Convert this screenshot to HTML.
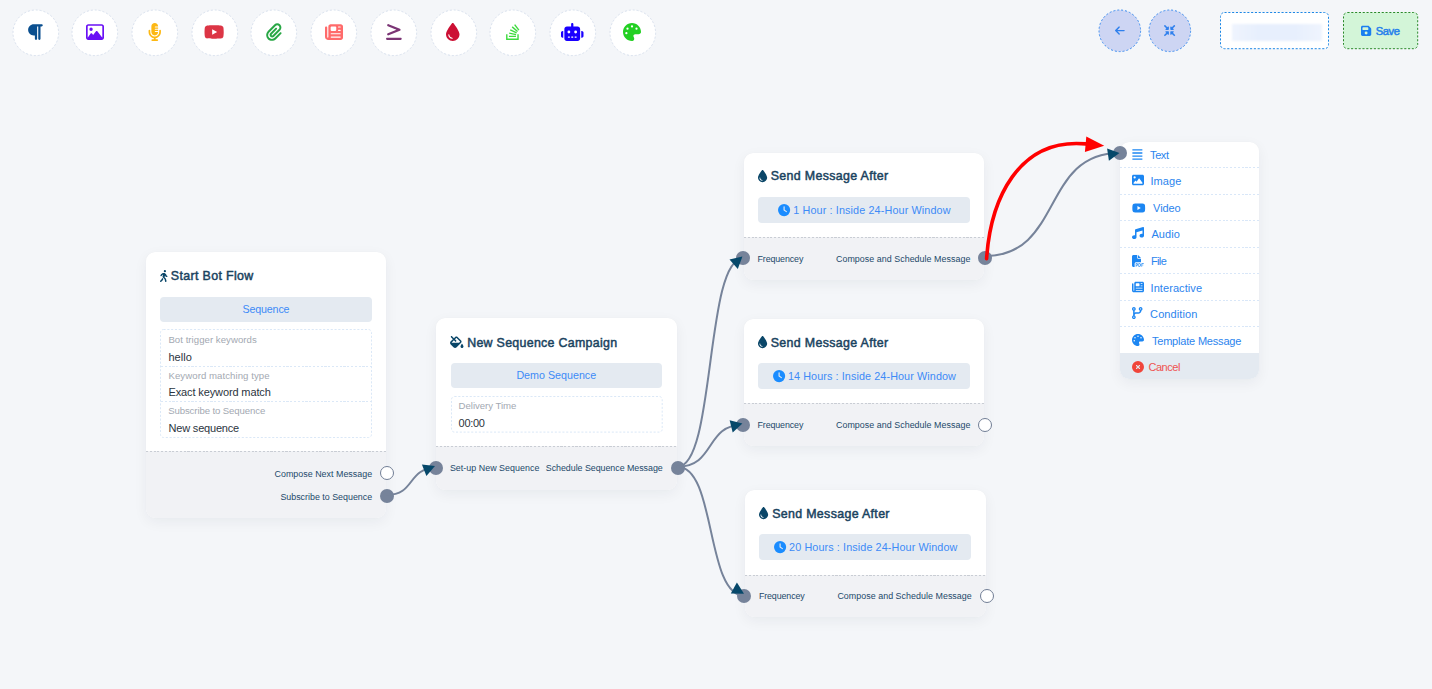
<!DOCTYPE html>
<html><head><meta charset="utf-8"><title>Flow Builder</title>
<style>
html,body{margin:0;padding:0}
body{width:1432px;height:689px;overflow:hidden;background:#f4f6f9;font-family:"Liberation Sans", sans-serif;position:relative}
.t{position:absolute;white-space:pre;line-height:0}
.abs{position:absolute;box-sizing:border-box}
svg{overflow:visible}

.tb{position:absolute;box-sizing:border-box;width:47px;height:47px;border-radius:50%;background:#fff;border:1px dashed #cfd9e8}
.rb{position:absolute;box-sizing:border-box;width:43px;height:43px;border-radius:50%;background:#ccd4f3;border:1px dashed #3b8ff0}
.card{position:absolute;box-sizing:border-box;background:#fff;border-radius:9px;box-shadow:0 4px 14px rgba(20,30,50,.055),0 0 1px rgba(20,30,50,.05);overflow:hidden}
.foot{position:absolute;left:0;right:0;bottom:0;background:#f1f2f5 repeating-linear-gradient(90deg,#c9cdd4 0 2.1px,transparent 2.1px 3.77px) top left/100% 1px no-repeat;box-sizing:border-box}
.btn{position:absolute;box-sizing:border-box;background:#e4eaf1;border-radius:4px}
.info{position:absolute;box-sizing:border-box;border:1px dashed #dbe7f5;border-radius:3px}
.hr{position:absolute;height:0;border-top:1px dashed #dbe7f5}
.sock{position:absolute;box-sizing:border-box;width:14px;height:14px;border-radius:50%;background:#76839a}
.sock.o{background:#fff;border:1.6px solid #717e95}
.mrow{position:absolute;left:0;right:0;height:0;border-top:1px dashed #dbe7f5;box-sizing:border-box}

</style></head><body>
<svg class="abs" style="left:11.60px;top:8.80px" width="47.60" height="47.60"><circle cx="23.80" cy="23.80" r="22.80" fill="#fff" stroke="#d9e1ee" stroke-width="1" stroke-dasharray="2 1.95"/></svg>
<svg class="abs" style="left:27.32px;top:23.00px" width="15.75" height="18" viewBox="0 0 448 512"><path fill="#0a4f8f" fill-rule="evenodd" d="M192 32h64H416c17.700 0 32 14.300 32 32s-14.300 32-32 32H384l0 352c0 17.700-14.300 32-32 32s-32-14.300-32-32l0-352H288V448c0 17.700-14.300 32-32 32s-32-14.300-32-32V352H192c-88.400 0-160-71.600-160-160s71.600-160 160-160z"/></svg>
<svg class="abs" style="left:71.30px;top:8.80px" width="47.60" height="47.60"><circle cx="23.80" cy="23.80" r="22.80" fill="#fff" stroke="#d9e1ee" stroke-width="1" stroke-dasharray="2 1.95"/></svg>
<svg class="abs" style="left:85.90px;top:23.00px" width="18.00" height="18" viewBox="0 0 512 512"><path fill="#6a11f5" fill-rule="evenodd" d="M448 80c8.800 0 16 7.200 16 16V415.800l-5-6.500-136-176c-4.500-5.900-11.600-9.300-19-9.300s-14.400 3.400-19 9.300L202 340.700l-30.500-42.700C167 291.700 159.800 288 152 288s-15 3.700-19.500 10.100l-80 112L48 416.300l0-.3V96c0-8.800 7.200-16 16-16H448zM64 32C28.700 32 0 60.700 0 96V416c0 35.300 28.700 64 64 64H448c35.300 0 64-28.700 64-64V96c0-35.300-28.700-64-64-64H64zm80 192a48 48 0 1 0 0-96 48 48 0 1 0 0 96z"/></svg>
<svg class="abs" style="left:131.00px;top:8.80px" width="47.60" height="47.60"><circle cx="23.80" cy="23.80" r="22.80" fill="#fff" stroke="#d9e1ee" stroke-width="1" stroke-dasharray="2 1.95"/></svg>
<svg class="abs" style="left:147.85px;top:23.00px" width="13.50" height="18" viewBox="0 0 384 512"><path fill="#fdb813" fill-rule="evenodd" d="M96 96V256c0 53 43 96 96 96s96-43 96-96H208c-8.800 0-16-7.200-16-16s7.200-16 16-16h80V192H208c-8.800 0-16-7.200-16-16s7.200-16 16-16h80V128H208c-8.800 0-16-7.200-16-16s7.200-16 16-16h80c0-53-43-96-96-96S96 43 96 96zM320 240v16c0 70.700-57.300 128-128 128s-128-57.300-128-128V216c0-13.300-10.700-24-24-24s-24 10.700-24 24v40c0 89.100 66.200 162.700 152 174.400V464H120c-13.300 0-24 10.700-24 24s10.700 24 24 24h72 72c13.300 0 24-10.700 24-24s-10.700-24-24-24H216V430.400c85.800-11.700 152-85.300 152-174.400V216c0-13.300-10.700-24-24-24s-24 10.700-24 24v24z"/></svg>
<svg class="abs" style="left:190.70px;top:8.80px" width="47.60" height="47.60"><circle cx="23.80" cy="23.80" r="22.80" fill="#fff" stroke="#d9e1ee" stroke-width="1" stroke-dasharray="2 1.95"/></svg>
<svg class="abs" style="left:204.18px;top:23.00px" width="20.25" height="18" viewBox="0 0 576 512"><path fill="#dc3545" fill-rule="evenodd" d="M549.655 124.083c-6.281-23.650-24.787-42.276-48.284-48.597C458.781 64 288 64 288 64S117.220 64 74.629 75.486c-23.497 6.322-42.003 24.947-48.284 48.597-11.412 42.867-11.412 132.305-11.412 132.305s0 89.438 11.412 132.305c6.281 23.650 24.787 41.500 48.284 47.821C117.220 448 288 448 288 448s170.780 0 213.371-11.486c23.497-6.321 42.003-24.171 48.284-47.821 11.412-42.867 11.412-132.305 11.412-132.305s0-89.438-11.412-132.305zm-317.510 213.508V175.185l142.739 81.205-142.739 81.201z"/></svg>
<svg class="abs" style="left:250.40px;top:8.80px" width="47.60" height="47.60"><circle cx="23.80" cy="23.80" r="22.80" fill="#fff" stroke="#d9e1ee" stroke-width="1" stroke-dasharray="2 1.95"/></svg>
<svg class="abs" style="left:266.12px;top:23.00px" width="15.75" height="18" viewBox="0 0 448 512"><path fill="#28a745" fill-rule="evenodd" d="M364.200 83.800c-24.400-24.400-64-24.400-88.400 0l-184 184c-42.100 42.100-42.100 110.300 0 152.400s110.300 42.100 152.400 0l152-152c10.900-10.900 28.700-10.900 39.600 0s10.900 28.700 0 39.600l-152 152c-64 64-167.600 64-231.600 0s-64-167.600 0-231.600l184-184c46.300-46.300 121.300-46.300 167.600 0s46.300 121.300 0 167.600l-176 176c-28.600 28.600-75 28.600-103.600 0s-28.600-75 0-103.600l144-144c10.900-10.900 28.700-10.900 39.600 0s10.900 28.700 0 39.600l-144 144c-6.700 6.700-6.700 17.700 0 24.400s17.700 6.700 24.400 0l176-176c24.400-24.400 24.400-64 0-88.400z"/></svg>
<svg class="abs" style="left:310.10px;top:8.80px" width="47.60" height="47.60"><circle cx="23.80" cy="23.80" r="22.80" fill="#fff" stroke="#d9e1ee" stroke-width="1" stroke-dasharray="2 1.95"/></svg>
<svg class="abs" style="left:324.70px;top:23.00px" width="18.00" height="18" viewBox="0 0 512 512"><path fill="#ff6b6b" fill-rule="evenodd" d="M96 96c0-35.300 28.700-64 64-64H448c35.300 0 64 28.700 64 64V416c0 35.300-28.700 64-64 64H80c-44.200 0-80-35.800-80-80V128c0-17.700 14.300-32 32-32s32 14.300 32 32V400c0 8.800 7.200 16 16 16s16-7.200 16-16V96zm64 24v80c0 13.300 10.700 24 24 24H296c13.300 0 24-10.700 24-24V120c0-13.300-10.700-24-24-24H184c-13.300 0-24 10.700-24 24zm208-8c0 8.800 7.200 16 16 16h48c8.800 0 16-7.200 16-16s-7.200-16-16-16H384c-8.800 0-16 7.200-16 16zm0 96c0 8.800 7.200 16 16 16h48c8.800 0 16-7.200 16-16s-7.200-16-16-16H384c-8.800 0-16 7.200-16 16zM160 304c0 8.800 7.200 16 16 16H432c8.800 0 16-7.200 16-16s-7.200-16-16-16H176c-8.800 0-16 7.200-16 16zm0 96c0 8.800 7.200 16 16 16H432c8.800 0 16-7.200 16-16s-7.200-16-16-16H176c-8.800 0-16 7.200-16 16z"/></svg>
<svg class="abs" style="left:369.80px;top:8.80px" width="47.60" height="47.60"><circle cx="23.80" cy="23.80" r="22.80" fill="#fff" stroke="#d9e1ee" stroke-width="1" stroke-dasharray="2 1.95"/></svg>
<svg class="abs" style="left:385.53px;top:23.00px" width="15.75" height="18" viewBox="0 0 448 512"><path fill="#7b3575" fill-rule="evenodd" d="M52.100 93.700C35.700 87.100 27.700 68.500 34.300 52.100s25.200-24.400 41.600-17.800l320 128C408 167.100 416 178.900 416 192s-8 24.900-20.100 29.700l-320 128c-16.400 6.600-35-1.400-41.600-17.800s1.400-35 17.800-41.600L297.800 192 52.100 93.700zM416 416c17.700 0 32 14.300 32 32s-14.300 32-32 32H32c-17.700 0-32-14.300-32-32s14.300-32 32-32H416z"/></svg>
<svg class="abs" style="left:429.50px;top:8.80px" width="47.60" height="47.60"><circle cx="23.80" cy="23.80" r="22.80" fill="#fff" stroke="#d9e1ee" stroke-width="1" stroke-dasharray="2 1.95"/></svg>
<svg class="abs" style="left:446.35px;top:23.00px" width="13.50" height="18" viewBox="0 0 384 512"><path fill="#cc1034" fill-rule="evenodd" d="M192 512C86 512 0 426 0 320C0 228.800 130.200 57.700 166.600 11.700C172.600 4.200 181.500 0 191.100 0h1.800c9.600 0 18.500 4.200 24.500 11.700C253.800 57.700 384 228.800 384 320c0 106-86 192-192 192zM96 336c0-8.800-7.200-16-16-16s-16 7.200-16 16c0 61.900 50.100 112 112 112c8.800 0 16-7.200 16-16s-7.200-16-16-16c-44.200 0-80-35.800-80-80z"/></svg>
<svg class="abs" style="left:489.20px;top:8.80px" width="47.60" height="47.60"><circle cx="23.80" cy="23.80" r="22.80" fill="#fff" stroke="#d9e1ee" stroke-width="1" stroke-dasharray="2 1.95"/></svg>
<svg class="abs" style="left:506.05px;top:23.00px" width="13.50" height="18" viewBox="0 0 384 512"><path fill="#3edb3e" fill-rule="evenodd" d="M290.700 311L95 269.700 86.800 309l195.700 41zm51-87L188.200 95.700l-25.500 30.800 153.500 128.300zm-31.200 39.700L129.200 179l-16.700 36.500L293.700 300zM262 32l-32 24 119.300 160.300 32-24zm20.500 328h-200v39.700h200zm39.700 80H42.700V320h-40v160h359.500V320h-40z"/></svg>
<svg class="abs" style="left:548.90px;top:8.80px" width="47.60" height="47.60"><circle cx="23.80" cy="23.80" r="22.80" fill="#fff" stroke="#d9e1ee" stroke-width="1" stroke-dasharray="2 1.95"/></svg>
<svg class="abs" style="left:561.25px;top:23.00px" width="22.50" height="18" viewBox="0 0 640 512"><path fill="#1a00ff" fill-rule="evenodd" d="M320 0c17.700 0 32 14.300 32 32V96H472c39.800 0 72 32.200 72 72V440c0 39.800-32.200 72-72 72H168c-39.800 0-72-32.200-72-72V168c0-39.800 32.200-72 72-72H288V32c0-17.700 14.300-32 32-32zM208 384c-8.800 0-16 7.200-16 16s7.200 16 16 16h32c8.800 0 16-7.200 16-16s-7.200-16-16-16H208zm96 0c-8.800 0-16 7.200-16 16s7.200 16 16 16h32c8.800 0 16-7.200 16-16s-7.200-16-16-16H304zm96 0c-8.800 0-16 7.200-16 16s7.200 16 16 16h32c8.800 0 16-7.200 16-16s-7.200-16-16-16H400zM264 256a40 40 0 1 0 -80 0 40 40 0 1 0 80 0zm152 40a40 40 0 1 0 0-80 40 40 0 1 0 0 80zM48 224H64V416H48c-26.500 0-48-21.500-48-48V272c0-26.500 21.500-48 48-48zm544 0c26.500 0 48 21.500 48 48v96c0 26.500-21.500 48-48 48H576V224h16z"/></svg>
<svg class="abs" style="left:608.60px;top:8.80px" width="47.60" height="47.60"><circle cx="23.80" cy="23.80" r="22.80" fill="#fff" stroke="#d9e1ee" stroke-width="1" stroke-dasharray="2 1.95"/></svg>
<svg class="abs" style="left:623.20px;top:23.00px" width="18.00" height="18" viewBox="0 0 512 512"><path fill="#22d022" fill-rule="evenodd" d="M512 256c0 .9 0 1.800 0 2.700c-.4 36.500-33.600 61.300-70.100 61.300H344c-26.500 0-48 21.500-48 48c0 3.400 .4 6.700 1 9.900c2.100 10.200 6.500 20 10.800 29.900c6.100 13.800 12.100 27.500 12.100 42c0 31.800-21.600 60.700-53.400 62c-3.500 .1-7 .2-10.600 .2C114.600 512 0 397.400 0 256S114.600 0 256 0S512 114.600 512 256zM128 288a32 32 0 1 0 -64 0 32 32 0 1 0 64 0zm0-96a32 32 0 1 0 0-64 32 32 0 1 0 0 64zM288 96a32 32 0 1 0 -64 0 32 32 0 1 0 64 0zm96 96a32 32 0 1 0 0-64 32 32 0 1 0 0 64z"/></svg>
<svg class="abs" style="left:1097.70px;top:8.80px" width="43.60" height="43.60"><circle cx="21.80" cy="21.80" r="20.80" fill="#cdd5f3" stroke="#3d8df0" stroke-width="1" stroke-dasharray="2 1.95"/></svg>
<svg class="abs" style="left:1147.50px;top:8.80px" width="43.60" height="43.60"><circle cx="21.80" cy="21.80" r="20.80" fill="#cdd5f3" stroke="#3d8df0" stroke-width="1" stroke-dasharray="2 1.95"/></svg>
<svg class="abs" style="left:1114.80px;top:25.40px" width="9.80" height="11.2" viewBox="0 0 448 512"><path fill="#2f80ed" fill-rule="evenodd" d="M9.400 233.400c-12.500 12.500-12.500 32.800 0 45.300l160 160c12.500 12.500 32.800 12.500 45.300 0s12.500-32.800 0-45.300L109.200 288 416 288c17.700 0 32-14.300 32-32s-14.300-32-32-32l-306.700 0L214.600 118.600c12.500-12.500 12.500-32.800 0-45.300s-32.800-12.500-45.300 0l-160 160z"/></svg>
<svg class="abs" style="left:1163.65px;top:25.05px" width="11.20" height="11.2" viewBox="0 0 512 512"><path fill="#2f80ed" fill-rule="evenodd" d="M200 288H88c-21.400 0-32.100 25.800-17 41l32.900 31-99.200 99.300c-6.200 6.200-6.200 16.400 0 22.600l25.400 25.400c6.200 6.200 16.400 6.200 22.600 0L152 408l31.100 33c15.100 15.100 40.900 4.400 40.900-17V312c0-13.300-10.700-24-24-24zm112-64h112c21.400 0 32.100-25.900 17-41l-33-31 99.300-99.300c6.200-6.200 6.200-16.400 0-22.600L481.900 4.700c-6.200-6.200-16.400-6.200-22.600 0L360 104l-31.100-33C313.800 55.900 288 66.600 288 88v112c0 13.300 10.700 24 24 24zm96 136l33-31.100c15.100-15.100 4.400-40.900-17-40.900H312c-13.300 0-24 10.700-24 24v112c0 21.400 25.900 32.100 41 17l31-32.900 99.300 99.300c6.200 6.200 16.400 6.200 22.600 0l25.400-25.400c6.200-6.200 6.200-16.400 0-22.600L408 360zM183 71.100L152 104 52.700 4.700c-6.200-6.200-16.400-6.200-22.600 0L4.700 30.100c-6.200 6.200-6.200 16.400 0 22.600L104 152l-33 31.100C55.900 198.200 66.600 224 88 224h112c13.300 0 24-10.700 24-24V88c0-21.300-25.900-32-41-16.900z"/></svg>
<svg class="abs" style="left:1218.90px;top:10.90px" width="111.00" height="39.20"><rect x="1.5" y="1.5" width="108.00" height="36.20" rx="4" fill="#fff" stroke="#1e88e5" stroke-width="1" stroke-dasharray="2.1 1.7"/></svg>
<div class="abs" style="left:1231.5px;top:24.2px;width:90.5px;height:16.6px;background:linear-gradient(90deg,#eff4fe,#e7effd 30%,#e7effd 70%,#eff4fe);filter:blur(1.2px)"></div>
<svg class="abs" style="left:1341.90px;top:10.90px" width="77.20" height="39.20"><rect x="1.5" y="1.5" width="74.20" height="36.20" rx="4" fill="#d3f5d8" stroke="#2a8a2a" stroke-width="1" stroke-dasharray="2.1 1.7"/></svg>
<svg class="abs" style="left:1360.98px;top:24.95px" width="10.24" height="11.7" viewBox="0 0 448 512"><path fill="#1a7ff0" fill-rule="evenodd" d="M64 32C28.700 32 0 60.700 0 96V416c0 35.300 28.700 64 64 64H384c35.300 0 64-28.700 64-64V173.300c0-17-6.700-33.300-18.700-45.300L352 50.700C340 38.700 323.700 32 306.700 32H64zm0 96c0-17.700 14.300-32 32-32H288c17.700 0 32 14.300 32 32v64c0 17.700-14.300 32-32 32H96c-17.700 0-32-14.300-32-32V128zM224 288a64 64 0 1 1 0 128 64 64 0 1 1 0-128z"/></svg>
<div class="card" style="left:145.5px;top:251.8px;width:240.8px;height:266.2px"><div class="foot" style="top:199.7px"></div></div>
<svg class="abs" style="left:159.75px;top:269.80px" width="7.50" height="12" viewBox="0 0 320 512"><path fill="#0a4668" fill-rule="evenodd" d="M160 48a48 48 0 1 1 96 0 48 48 0 1 1 -96 0zM126.500 199.300c-1 .4-1.900 .8-2.900 1.200l-8 3.500c-16.400 7.300-29 21.200-34.700 38.200l-2.600 7.800c-5.600 16.800-23.700 25.800-40.500 20.200s-25.800-23.700-20.200-40.500l2.600-7.800c11.400-34.100 36.600-61.900 69.400-76.500l8-3.500c20.800-9.200 43.300-14 66.100-14c44.600 0 84.800 26.800 101.900 67.900L281 232.700l21.400 10.700c15.800 7.900 22.200 27.100 14.300 42.900s-27.100 22.200-42.900 14.300L247 287.300c-10.300-5.200-18.400-13.800-22.800-24.500l-9.600-23-19.300 65.500 49.500 54c5.400 5.900 9.200 13 11.200 20.800l23 92.100c4.300 17.100-6.100 34.500-23.300 38.800s-34.500-6.100-38.800-23.300l-22-88.100-70.700-77.100c-14.800-16.100-20.300-38.600-14.700-59.700l16.900-63.500zM68.700 398l25-62.400c2.100 3 4.500 5.800 7 8.600l40.700 44.400-14.500 36.200c-2.400 6-6 11.500-10.600 16.100L54.600 502.600c-12.500 12.500-32.800 12.500-45.300 0s-12.500-32.800 0-45.300L68.700 398z"/></svg>
<div class="btn" style="left:160px;top:297px;width:212px;height:25.3px"></div>
<svg class="abs" style="left:159.00px;top:328.20px" width="214.00" height="111.00"><rect x="1.5" y="1.5" width="211.00" height="108.00" rx="3" fill="none" stroke="#dbe8f7" stroke-width="1" stroke-dasharray="2.1 1.7"/></svg>
<div class="abs" style="left:160.50px;top:366.00px;width:211.00px;height:1px;background:repeating-linear-gradient(90deg,#dbe8f7 0 2.1px,transparent 2.1px 3.8px)"></div>
<div class="abs" style="left:160.50px;top:401.00px;width:211.00px;height:1px;background:repeating-linear-gradient(90deg,#dbe8f7 0 2.1px,transparent 2.1px 3.8px)"></div>
<div class="card" style="left:436.0px;top:318.3px;width:240.8px;height:172.0px"><div class="foot" style="top:127.9px"></div></div>
<svg class="abs" style="left:450.40px;top:336.10px" width="13.50" height="12" viewBox="0 0 576 512"><path fill="#0a4668" fill-rule="evenodd" d="M41.400 9.400C53.900-3.100 74.100-3.100 86.600 9.400L168 90.700l53.100-53.100c28.100-28.100 73.700-28.100 101.800 0L474.300 189.100c28.100 28.100 28.100 73.700 0 101.800L283.900 481.400c-37.500 37.500-98.300 37.500-135.800 0L30.600 363.900c-37.500-37.500-37.500-98.300 0-135.800L122.700 136 41.400 54.600c-12.500-12.500-12.500-32.800 0-45.300zm176 221.300L168 181.300 75.900 273.400c-4.200 4.200-7 9.300-8.400 14.600H386.700l42.300-42.300c3.100-3.100 3.100-8.200 0-11.300L277.700 82.900c-3.100-3.100-8.200-3.100-11.300 0L213.300 136l49.400 49.400c12.500 12.500 12.500 32.800 0 45.300s-32.800 12.500-45.300 0zM512 512c-35.300 0-64-28.700-64-64c0-25.200 32.600-79.600 51.200-108.700c6-9.400 19.500-9.400 25.500 0C543.400 368.400 576 422.800 576 448c0 35.300-28.700 64-64 64z"/></svg>
<div class="btn" style="left:450.5px;top:363px;width:211.7px;height:25.4px"></div>
<svg class="abs" style="left:449.50px;top:395.20px" width="213.70" height="38.60"><rect x="1.5" y="1.5" width="210.70" height="35.60" rx="3" fill="none" stroke="#dbe8f7" stroke-width="1" stroke-dasharray="2.1 1.7"/></svg>
<div class="card" style="left:743.6px;top:152.7px;width:240.8px;height:127.2px"><div class="foot" style="top:84.4px"></div></div>
<svg class="abs" style="left:757.72px;top:169.90px" width="9.15" height="12.2" viewBox="0 0 384 512"><path fill="#0a4668" fill-rule="evenodd" d="M192 512C86 512 0 426 0 320C0 228.800 130.200 57.700 166.600 11.700C172.600 4.200 181.500 0 191.100 0h1.800c9.600 0 18.500 4.200 24.500 11.700C253.800 57.700 384 228.800 384 320c0 106-86 192-192 192zM96 336c0-8.800-7.200-16-16-16s-16 7.200-16 16c0 61.900 50.100 112 112 112c8.800 0 16-7.200 16-16s-7.200-16-16-16c-44.200 0-80-35.800-80-80z"/></svg>
<div class="btn" style="left:757.7px;top:196.9px;width:212.3px;height:25.7px"></div>
<svg class="abs" style="left:777.60px;top:203.60px" width="12.20" height="12.2" viewBox="0 0 512 512"><path fill="#1a8cff" fill-rule="evenodd" d="M256 0a256 256 0 1 1 0 512A256 256 0 1 1 256 0zM232 120V256c0 8 4 15.500 10.700 20l96 64c11 7.400 25.900 4.400 33.300-6.700s4.400-25.900-6.700-33.300L280 243.200V120c0-13.300-10.700-24-24-24s-24 10.700-24 24z"/></svg>
<div class="card" style="left:743.6px;top:319.0px;width:240.8px;height:127.2px"><div class="foot" style="top:84.4px"></div></div>
<svg class="abs" style="left:757.72px;top:336.20px" width="9.15" height="12.2" viewBox="0 0 384 512"><path fill="#0a4668" fill-rule="evenodd" d="M192 512C86 512 0 426 0 320C0 228.800 130.200 57.700 166.600 11.700C172.600 4.200 181.500 0 191.100 0h1.800c9.600 0 18.500 4.200 24.500 11.700C253.800 57.700 384 228.800 384 320c0 106-86 192-192 192zM96 336c0-8.800-7.200-16-16-16s-16 7.200-16 16c0 61.900 50.100 112 112 112c8.800 0 16-7.200 16-16s-7.200-16-16-16c-44.200 0-80-35.800-80-80z"/></svg>
<div class="btn" style="left:757.7px;top:363.2px;width:212.3px;height:25.7px"></div>
<svg class="abs" style="left:772.65px;top:369.90px" width="12.20" height="12.2" viewBox="0 0 512 512"><path fill="#1a8cff" fill-rule="evenodd" d="M256 0a256 256 0 1 1 0 512A256 256 0 1 1 256 0zM232 120V256c0 8 4 15.500 10.700 20l96 64c11 7.400 25.900 4.400 33.300-6.700s4.400-25.900-6.700-33.300L280 243.200V120c0-13.300-10.700-24-24-24s-24 10.700-24 24z"/></svg>
<div class="card" style="left:745.0px;top:490.2px;width:240.8px;height:127.2px"><div class="foot" style="top:84.4px"></div></div>
<svg class="abs" style="left:759.12px;top:507.40px" width="9.15" height="12.2" viewBox="0 0 384 512"><path fill="#0a4668" fill-rule="evenodd" d="M192 512C86 512 0 426 0 320C0 228.800 130.200 57.700 166.600 11.700C172.600 4.200 181.500 0 191.100 0h1.800c9.600 0 18.500 4.200 24.500 11.700C253.800 57.700 384 228.800 384 320c0 106-86 192-192 192zM96 336c0-8.800-7.200-16-16-16s-16 7.200-16 16c0 61.900 50.100 112 112 112c8.800 0 16-7.200 16-16s-7.200-16-16-16c-44.200 0-80-35.800-80-80z"/></svg>
<div class="btn" style="left:759.1px;top:534.4px;width:212.3px;height:25.7px"></div>
<svg class="abs" style="left:773.65px;top:541.10px" width="12.20" height="12.2" viewBox="0 0 512 512"><path fill="#1a8cff" fill-rule="evenodd" d="M256 0a256 256 0 1 1 0 512A256 256 0 1 1 256 0zM232 120V256c0 8 4 15.500 10.700 20l96 64c11 7.400 25.900 4.400 33.300-6.700s4.400-25.900-6.700-33.300L280 243.200V120c0-13.300-10.700-24-24-24s-24 10.700-24 24z"/></svg>
<div class="card" style="left:1120.4px;top:141.5px;width:138.4px;height:237.6px"><div class="abs" style="left:0;right:0;top:211.8px;bottom:0;background:#e4eaf1"></div></div>
<div class="abs" style="left:1120.40px;top:167.00px;width:138.40px;height:1px;background:repeating-linear-gradient(90deg,#d9e7f8 0 2.1px,transparent 2.1px 3.8px)"></div>
<div class="abs" style="left:1120.40px;top:193.54px;width:138.40px;height:1px;background:repeating-linear-gradient(90deg,#d9e7f8 0 2.1px,transparent 2.1px 3.8px)"></div>
<div class="abs" style="left:1120.40px;top:220.08px;width:138.40px;height:1px;background:repeating-linear-gradient(90deg,#d9e7f8 0 2.1px,transparent 2.1px 3.8px)"></div>
<div class="abs" style="left:1120.40px;top:246.62px;width:138.40px;height:1px;background:repeating-linear-gradient(90deg,#d9e7f8 0 2.1px,transparent 2.1px 3.8px)"></div>
<div class="abs" style="left:1120.40px;top:273.16px;width:138.40px;height:1px;background:repeating-linear-gradient(90deg,#d9e7f8 0 2.1px,transparent 2.1px 3.8px)"></div>
<div class="abs" style="left:1120.40px;top:299.70px;width:138.40px;height:1px;background:repeating-linear-gradient(90deg,#d9e7f8 0 2.1px,transparent 2.1px 3.8px)"></div>
<div class="abs" style="left:1120.40px;top:326.24px;width:138.40px;height:1px;background:repeating-linear-gradient(90deg,#d9e7f8 0 2.1px,transparent 2.1px 3.8px)"></div>
<svg class="abs" style="left:1131.50px;top:148.25px" width="10.76" height="12.3" viewBox="0 0 448 512"><path fill="#1c86f2" fill-rule="evenodd" d="M16 52h416v56H16zM16 180h416v56H16zM16 308h416v56H16zM16 436h416v56H16z"/></svg>
<svg class="abs" style="left:1131.50px;top:174.30px" width="12.00" height="12" viewBox="0 0 512 512"><path fill="#1c86f2" fill-rule="evenodd" d="M0 96C0 60.700 28.700 32 64 32H448c35.300 0 64 28.700 64 64V416c0 35.300-28.700 64-64 64H64c-35.300 0-64-28.700-64-64V96zM323.800 202.500c-4.500-6.600-11.900-10.500-19.800-10.500s-15.400 3.900-19.800 10.500l-87 127.600L170.700 297c-4.600-5.700-11.500-9-18.700-9s-14.200 3.300-18.700 9l-64 80c-5.800 7.200-6.900 17.100-2.900 25.400s12.400 13.600 21.600 13.600h96 32H424c8.900 0 17.100-4.900 21.200-12.800s3.600-17.400-1.400-24.700l-120-176zM112 192a48 48 0 1 0 0-96 48 48 0 1 0 0 96z"/></svg>
<svg class="abs" style="left:1131.50px;top:201.50px" width="13.50" height="12" viewBox="0 0 576 512"><path fill="#1c86f2" fill-rule="evenodd" d="M549.655 124.083c-6.281-23.650-24.787-42.276-48.284-48.597C458.781 64 288 64 288 64S117.220 64 74.629 75.486c-23.497 6.322-42.003 24.947-48.284 48.597-11.412 42.867-11.412 132.305-11.412 132.305s0 89.438 11.412 132.305c6.281 23.650 24.787 41.500 48.284 47.821C117.220 448 288 448 288 448s170.780 0 213.371-11.486c23.497-6.321 42.003-24.171 48.284-47.821 11.412-42.867 11.412-132.305 11.412-132.305s0-89.438-11.412-132.305zm-317.510 213.508V175.185l142.739 81.205-142.739 81.201z"/></svg>
<svg class="abs" style="left:1131.50px;top:227.20px" width="12.00" height="12" viewBox="0 0 512 512"><path fill="#1c86f2" fill-rule="evenodd" d="M499.100 6.300c8.100 6 12.900 15.600 12.900 25.700v72V368c0 44.200-43 80-96 80s-96-35.800-96-80s43-80 96-80c11.200 0 22 1.600 32 4.600V147L192 223.800V432c0 44.200-43 80-96 80s-96-35.800-96-80s43-80 96-80c11.200 0 22 1.600 32 4.600V200 128c0-14.100 9.300-26.600 22.800-30.700l320-96c9.700-2.900 20.200-1.100 28.300 5z"/></svg>
<svg class="abs" style="left:1131.50px;top:254.50px" width="12.00" height="12" viewBox="0 0 512 512"><path fill="#1c86f2" fill-rule="evenodd" d="M0 64C0 28.700 28.700 0 64 0H224V128c0 17.700 14.300 32 32 32H384V304H176c-35.300 0-64 28.700-64 64V512H64c-35.300 0-64-28.700-64-64V64zm384 64H256V0L384 128zM160 352h40c30 0 54 24 54 54s-24 54-54 54h-12v36h-28zm28 28v52h12c14 0 26-12 26-26s-12-26-26-26zM276 352h40c38 0 66 32 66 72s-28 72-66 72h-40zm28 28v88h12c22 0 38-20 38-44s-16-44-38-44zM404 352h96v28h-68v32h52v28h-52v56h-28z"/></svg>
<svg class="abs" style="left:1131.50px;top:281.20px" width="12.00" height="12" viewBox="0 0 512 512"><path fill="#1c86f2" fill-rule="evenodd" d="M96 96c0-35.300 28.700-64 64-64H448c35.300 0 64 28.700 64 64V416c0 35.300-28.700 64-64 64H80c-44.200 0-80-35.800-80-80V128c0-17.700 14.300-32 32-32s32 14.300 32 32V400c0 8.800 7.200 16 16 16s16-7.200 16-16V96zm64 24v80c0 13.300 10.700 24 24 24H296c13.300 0 24-10.700 24-24V120c0-13.300-10.700-24-24-24H184c-13.300 0-24 10.700-24 24zm208-8c0 8.800 7.200 16 16 16h48c8.800 0 16-7.200 16-16s-7.200-16-16-16H384c-8.800 0-16 7.200-16 16zm0 96c0 8.800 7.200 16 16 16h48c8.800 0 16-7.200 16-16s-7.200-16-16-16H384c-8.800 0-16 7.200-16 16zM160 304c0 8.800 7.200 16 16 16H432c8.800 0 16-7.200 16-16s-7.200-16-16-16H176c-8.800 0-16 7.200-16 16zm0 96c0 8.800 7.200 16 16 16H432c8.800 0 16-7.200 16-16s-7.200-16-16-16H176c-8.800 0-16 7.200-16 16z"/></svg>
<svg class="abs" style="left:1131.50px;top:307.00px" width="10.50" height="12" viewBox="0 0 448 512"><path fill="#1c86f2" fill-rule="evenodd" d="M80 104a24 24 0 1 0 0-48 24 24 0 1 0 0 48zm80-24c0 32.800-19.700 61-48 73.300v87.800c18.800-10.900 40.700-17.100 64-17.100h96c35.300 0 64-28.700 64-64v-6.700C307.700 141 288 112.800 288 80c0-44.200 35.800-80 80-80s80 35.800 80 80c0 32.800-19.700 61-48 73.300V160c0 70.700-57.300 128-128 128H176c-35.300 0-64 28.700-64 64v6.700c28.300 12.300 48 40.500 48 73.300c0 44.200-35.800 80-80 80s-80-35.800-80-80c0-32.800 19.700-61 48-73.300V352 153.300C19.700 141 0 112.800 0 80C0 35.800 35.800 0 80 0s80 35.800 80 80zm232 0a24 24 0 1 0 -48 0 24 24 0 1 0 48 0zM80 456a24 24 0 1 0 0-48 24 24 0 1 0 0 48z"/></svg>
<svg class="abs" style="left:1131.50px;top:334.20px" width="12.00" height="12" viewBox="0 0 512 512"><path fill="#1c86f2" fill-rule="evenodd" d="M512 256c0 .9 0 1.800 0 2.700c-.4 36.500-33.600 61.300-70.100 61.300H344c-26.500 0-48 21.500-48 48c0 3.400 .4 6.700 1 9.900c2.100 10.200 6.500 20 10.800 29.900c6.100 13.800 12.100 27.500 12.100 42c0 31.800-21.600 60.700-53.400 62c-3.500 .1-7 .2-10.600 .2C114.600 512 0 397.400 0 256S114.600 0 256 0S512 114.600 512 256zM128 288a32 32 0 1 0 -64 0 32 32 0 1 0 64 0zm0-96a32 32 0 1 0 0-64 32 32 0 1 0 0 64zM288 96a32 32 0 1 0 -64 0 32 32 0 1 0 64 0zm96 96a32 32 0 1 0 0-64 32 32 0 1 0 0 64z"/></svg>
<svg class="abs" style="left:1131.50px;top:361.10px" width="12.00" height="12" viewBox="0 0 512 512"><path fill="#f0453a" fill-rule="evenodd" d="M256 512A256 256 0 1 0 256 0a256 256 0 1 0 0 512zM175 175c9.400-9.400 24.600-9.400 33.900 0l47 47 47-47c9.400-9.400 24.600-9.400 33.900 0s9.400 24.600 0 33.900l-47 47 47 47c9.400 9.400 9.400 24.600 0 33.900s-24.600 9.400-33.900 0l-47-47-47 47c-9.400 9.400-24.600 9.400-33.900 0s-9.400-24.600 0-33.900l47-47-47-47c-9.400-9.400-9.400-24.600 0-33.900z"/></svg>
<div class="sock o" style="left:380.0px;top:466.1px"></div>
<div class="sock" style="left:380.0px;top:489.0px"></div>
<div class="sock" style="left:428.7px;top:461.0px"></div>
<div class="sock" style="left:670.6px;top:460.9px"></div>
<div class="sock" style="left:736.0px;top:251.4px"></div>
<div class="sock" style="left:978.1px;top:251.4px"></div>
<div class="sock" style="left:736.0px;top:417.7px"></div>
<div class="sock o" style="left:978.1px;top:417.7px"></div>
<div class="sock" style="left:737.4px;top:588.9px"></div>
<div class="sock o" style="left:979.5px;top:588.9px"></div>
<div class="sock" style="left:1112.5px;top:145.9px"></div>
<svg class="abs" style="left:0;top:0;pointer-events:none" width="1432" height="689" viewBox="0 0 1432 689"><g fill="none" stroke="#76839a" stroke-width="2" stroke-linecap="round"><path d="M387.0,495.0 C415.2,495.0 407.4,468.0 435.6,468.0"/><path d="M677.5,466.8 C715.5,466.8 705.0,258.4 743.0,258.4"/><path d="M677.5,466.8 C715.5,466.8 705.0,424.7 743.0,424.7"/><path d="M677.5,466.8 C716.3,466.8 705.6,595.9 744.4,595.9"/><path d="M985.0,256.0 C1062.9,256.0 1041.4,153.0 1119.3,153.0"/></g><path d="M986.6,258.6 C990.5,200 1018,137.5 1086,143.9" fill="none" stroke="#ff0000" stroke-width="3.6" stroke-linecap="round"/><polygon fill="#ff0000" points="1104.2,145.8 1084.9,152.0 1086.3,136.4"/><polygon fill="#06486a" points="435.0,466.1 426.4,476.1 421.9,464.4"/><polygon fill="#06486a" points="742.4,256.5 737.8,268.9 729.5,259.4"/><polygon fill="#06486a" points="742.4,423.5 732.7,432.4 729.6,420.2"/><polygon fill="#06486a" points="744.0,593.7 730.8,593.6 736.9,582.6"/><polygon fill="#06486a" points="1119.5,152.9 1108.9,160.8 1107.1,148.4"/></svg>
<span class="t" style="left:1375.85px;top:31.02px;font-size:11.2px;color:#2680eb;letter-spacing:-0.459px;-webkit-text-stroke:0.5px #2680eb;">Save</span>
<span class="t" style="left:170.84px;top:276.10px;font-size:12.4px;color:#1a4360;letter-spacing:0.351px;-webkit-text-stroke:0.48px #1a4360;">Start Bot Flow</span>
<span class="t" style="left:242.40px;top:309.09px;font-size:10.7px;color:#3d8bf7;letter-spacing:-0.142px;">Sequence</span>
<span class="t" style="left:168.40px;top:339.67px;font-size:9.6px;color:#a3a9b2;letter-spacing:0.045px;">Bot trigger keywords</span>
<span class="t" style="left:168.40px;top:357.09px;font-size:11px;color:#2b3440;letter-spacing:0.044px;">hello</span>
<span class="t" style="left:168.50px;top:376.27px;font-size:9.6px;color:#a3a9b2;letter-spacing:0.066px;">Keyword matching type</span>
<span class="t" style="left:168.50px;top:391.89px;font-size:11px;color:#2b3440;letter-spacing:-0.123px;">Exact keyword match</span>
<span class="t" style="left:168.20px;top:411.27px;font-size:9.6px;color:#a3a9b2;letter-spacing:-0.108px;">Subscribe to Sequence</span>
<span class="t" style="left:168.50px;top:428.29px;font-size:11px;color:#2b3440;letter-spacing:-0.186px;">New sequence</span>
<span class="t" style="left:274.50px;top:473.62px;font-size:8.9px;color:#22496a;letter-spacing:0.024px;">Compose Next Message</span>
<span class="t" style="left:280.40px;top:496.72px;font-size:8.9px;color:#22496a;">Subscribe to Sequence</span>
<span class="t" style="left:467.14px;top:342.50px;font-size:12.4px;color:#1a4360;letter-spacing:0.303px;-webkit-text-stroke:0.48px #1a4360;">New Sequence Campaign</span>
<span class="t" style="left:516.40px;top:375.29px;font-size:10.7px;color:#3d8bf7;letter-spacing:0.011px;">Demo Sequence</span>
<span class="t" style="left:458.60px;top:406.27px;font-size:9.6px;color:#a3a9b2;letter-spacing:-0.029px;">Delivery Time</span>
<span class="t" style="left:458.60px;top:422.99px;font-size:11px;color:#2b3440;letter-spacing:-0.302px;">00:00</span>
<span class="t" style="left:449.90px;top:468.02px;font-size:8.9px;color:#22496a;letter-spacing:0.035px;">Set-up New Sequence</span>
<span class="t" style="left:545.80px;top:468.02px;font-size:8.9px;color:#22496a;letter-spacing:-0.041px;">Schedule Sequence Message</span>
<span class="t" style="left:770.74px;top:176.20px;font-size:12.4px;color:#1a4360;letter-spacing:0.340px;-webkit-text-stroke:0.48px #1a4360;">Send Message After</span>
<span class="t" style="left:793.30px;top:209.76px;font-size:10.8px;color:#3d8bf7;letter-spacing:0.123px;">1 Hour : Inside 24-Hour Window</span>
<span class="t" style="left:757.50px;top:258.52px;font-size:8.9px;color:#22496a;letter-spacing:-0.114px;">Frequencey</span>
<span class="t" style="left:836.00px;top:258.52px;font-size:8.9px;color:#22496a;letter-spacing:0.042px;">Compose and Schedule Message</span>
<span class="t" style="left:770.74px;top:342.50px;font-size:12.4px;color:#1a4360;letter-spacing:0.340px;-webkit-text-stroke:0.48px #1a4360;">Send Message After</span>
<span class="t" style="left:787.90px;top:376.06px;font-size:10.8px;color:#3d8bf7;letter-spacing:0.096px;">14 Hours : Inside 24-Hour Window</span>
<span class="t" style="left:757.50px;top:424.82px;font-size:8.9px;color:#22496a;letter-spacing:-0.114px;">Frequencey</span>
<span class="t" style="left:836.00px;top:424.82px;font-size:8.9px;color:#22496a;letter-spacing:0.042px;">Compose and Schedule Message</span>
<span class="t" style="left:772.14px;top:513.70px;font-size:12.4px;color:#1a4360;letter-spacing:0.340px;-webkit-text-stroke:0.48px #1a4360;">Send Message After</span>
<span class="t" style="left:789.10px;top:547.26px;font-size:10.8px;color:#3d8bf7;letter-spacing:0.105px;">20 Hours : Inside 24-Hour Window</span>
<span class="t" style="left:758.90px;top:596.02px;font-size:8.9px;color:#22496a;letter-spacing:-0.114px;">Frequencey</span>
<span class="t" style="left:837.40px;top:596.02px;font-size:8.9px;color:#22496a;letter-spacing:0.042px;">Compose and Schedule Message</span>
<span class="t" style="left:1150.00px;top:154.99px;font-size:11px;color:#2b84ee;letter-spacing:-0.373px;">Text</span>
<span class="t" style="left:1150.40px;top:180.79px;font-size:11px;color:#2b84ee;letter-spacing:0.111px;">Image</span>
<span class="t" style="left:1153.10px;top:207.69px;font-size:11px;color:#2b84ee;letter-spacing:-0.079px;">Video</span>
<span class="t" style="left:1151.40px;top:233.89px;font-size:11px;color:#2b84ee;letter-spacing:0.096px;">Audio</span>
<span class="t" style="left:1150.90px;top:260.79px;font-size:11px;color:#2b84ee;letter-spacing:-0.602px;">File</span>
<span class="t" style="left:1150.50px;top:287.59px;font-size:11px;color:#2b84ee;letter-spacing:0.077px;">Interactive</span>
<span class="t" style="left:1150.10px;top:314.09px;font-size:11px;color:#2b84ee;letter-spacing:0.093px;">Condition</span>
<span class="t" style="left:1151.90px;top:340.59px;font-size:11px;color:#2b84ee;letter-spacing:-0.187px;">Template Message</span>
<span class="t" style="left:1148.40px;top:367.39px;font-size:11px;color:#ef5350;letter-spacing:-0.459px;">Cancel</span>

</body></html>
